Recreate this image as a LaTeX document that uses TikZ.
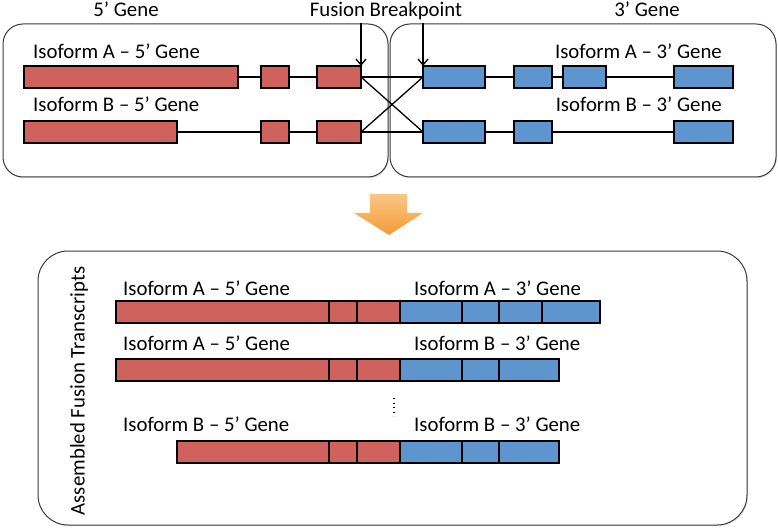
\documentclass[tikz,border=0pt]{standalone}
\usepackage{fontspec}
\setmainfont{Carlito}
\usepackage{tikz}
\usetikzlibrary{arrows.meta,positioning,shadows}
\definecolor{exonred}{HTML}{D0625D}
\definecolor{exonblue}{HTML}{5E95CF}
\definecolor{arroworange}{HTML}{F59B38}
\definecolor{arrowlight}{HTML}{FBC584}
\definecolor{boxline}{HTML}{3A3A3A}
\newcommand{\genefont}{\fontsize{20.8pt}{25pt}\selectfont}

\tikzset{
  exon/.style={draw=black, line width=1.4pt, minimum height=22pt, inner sep=0pt, outer sep=0pt, anchor=west},
  five/.style={exon, fill=exonred},
  three/.style={exon, fill=exonblue},
  intron/.style={black, line width=1.3pt},
  genebox/.style={draw=boxline, line width=1pt, fill=white, inner sep=0pt,
    drop shadow={shadow xshift=1pt, shadow yshift=-1.2pt, opacity=0.25}},
  lbl/.style={inner sep=0pt, anchor=base west, font=\genefont},
}

\begin{document}
\begin{tikzpicture}[x=1pt, y=-1pt]
  \useasboundingbox (0,0) rectangle (778,529);
  % gene boxes
  \node[genebox, rounded corners=20pt, minimum width=385pt, minimum height=153pt] (box5) at (195.5,100.5) {};
  \node[genebox, rounded corners=20pt, minimum width=386pt, minimum height=153pt] (box3) at (583,100.5) {};
  \node[genebox, rounded corners=30pt, minimum width=709pt, minimum height=274pt] (boxf) at (392.5,388) {};

  \node[lbl, anchor=base] (g5) at (126,17) {5’ Gene};
  \node[lbl, anchor=base] (bp) at (386,17) {Fusion Breakpoint};
  \node[lbl, anchor=base] (g3) at (647,17) {3’ Gene};

  % 5' gene isoforms
  \node[lbl] (la5) at (33,59) {Isoform A -- 5’ Gene};
  \node[five, minimum width=214pt] (fa1) at (24,77) {};
  \node[five, minimum width=28pt] (fa2) at (261,77) {};
  \node[five, minimum width=44pt] (fa3) at (317,77) {};

  \node[lbl] (lb5) at (33,112) {Isoform B -- 5’ Gene};
  \node[five, minimum width=153pt] (fb1) at (24,132) {};
  \node[five, minimum width=28pt] (fb2) at (261,132) {};
  \node[five, minimum width=44pt] (fb3) at (317,132) {};

  % 3' gene isoforms
  \node[lbl, anchor=base east] (la3) at (722,59) {Isoform A -- 3’ Gene};
  \node[three, minimum width=62pt] (ta1) at (423,77) {};
  \node[three, minimum width=38pt] (ta2) at (514,77) {};
  \node[three, minimum width=43pt] (ta3) at (563,77) {};
  \node[three, minimum width=59pt] (ta4) at (674,77) {};

  \node[lbl, anchor=base east] (lb3) at (722,112) {Isoform B -- 3’ Gene};
  \node[three, minimum width=62pt] (tb1) at (423,132) {};
  \node[three, minimum width=38pt] (tb2) at (514,132) {};
  \node[three, minimum width=59pt] (tb3) at (674,132) {};

  \draw[intron] (fa1) -- (fa2);
  \draw[intron] (fa2) -- (fa3);
  \draw[intron] (fb1) -- (fb2);
  \draw[intron] (fb2) -- (fb3);
  \draw[intron] (ta1) -- (ta2);
  \draw[intron] (ta2) -- (ta3);
  \draw[intron] (ta3) -- (ta4);
  \draw[intron] (tb1) -- (tb2);
  \draw[intron] (tb2) -- (tb3);

  % breakpoint
  \draw[intron] (fa3.east) -- (ta1.west);
  \draw[intron] (fa3.east) -- (tb1.west);
  \draw[intron] (fb3.east) -- (ta1.west);
  \draw[intron] (fb3.east) -- (tb1.west);
  \draw[intron, -{Straight Barb[length=6pt, width=10pt]}] (box5.north -| fa3.east) -- (fa3.north east);
  \draw[intron, -{Straight Barb[length=6pt, width=10pt]}] (box3.north -| ta1.west) -- (ta1.north west);

  % orange arrow
  \shade[top color=arrowlight, bottom color=arroworange] (370,194) -- (407,194) -- (407,213) -- (423,213)
    -- (389,235) -- (354,213) -- (370,213) -- cycle;

  % fused transcripts
  \node[lbl, rotate=90, anchor=center] (asm) at (79,391) {Assembled Fusion Transcripts};

  \node[lbl] (r1l5) at (123,295) {Isoform A -- 5’ Gene};
  \node[lbl] (r1l3) at (414,295) {Isoform A -- 3’ Gene};
  \node[five, minimum width=213pt] (r1a) at (116,312) {};
  \node[five, minimum width=28pt, right=0pt of r1a] (r1b) {};
  \node[five, minimum width=43pt, right=0pt of r1b] (r1c) {};
  \node[three, minimum width=62pt, right=0pt of r1c] (r1d) {};
  \node[three, minimum width=37pt, right=0pt of r1d] (r1e) {};
  \node[three, minimum width=43pt, right=0pt of r1e] (r1f) {};
  \node[three, minimum width=58pt, right=0pt of r1f] (r1g) {};

  \node[lbl] (r2l5) at (123,350) {Isoform A -- 5’ Gene};
  \node[lbl] (r2l3) at (414,350) {Isoform B -- 3’ Gene};
  \node[five, minimum width=213pt] (r2a) at (116,370) {};
  \node[five, minimum width=28pt, right=0pt of r2a] (r2b) {};
  \node[five, minimum width=43pt, right=0pt of r2b] (r2c) {};
  \node[three, minimum width=62pt, right=0pt of r2c] (r2d) {};
  \node[three, minimum width=37pt, right=0pt of r2d] (r2e) {};
  \node[three, minimum width=60pt, right=0pt of r2e] (r2f) {};

  \draw[line width=1.3pt, dash pattern=on 1.3pt off 3.2pt] (394,398) -- (394,416);

  \node[lbl] (r3l5) at (123,431) {Isoform B -- 5’ Gene};
  \node[lbl] (r3l3) at (414,431) {Isoform B -- 3’ Gene};
  \node[five, minimum width=152pt] (r3a) at (177,452) {};
  \node[five, minimum width=28pt, right=0pt of r3a] (r3b) {};
  \node[five, minimum width=43pt, right=0pt of r3b] (r3c) {};
  \node[three, minimum width=62pt, right=0pt of r3c] (r3d) {};
  \node[three, minimum width=37pt, right=0pt of r3d] (r3e) {};
  \node[three, minimum width=60pt, right=0pt of r3e] (r3f) {};
\end{tikzpicture}
\end{document}
